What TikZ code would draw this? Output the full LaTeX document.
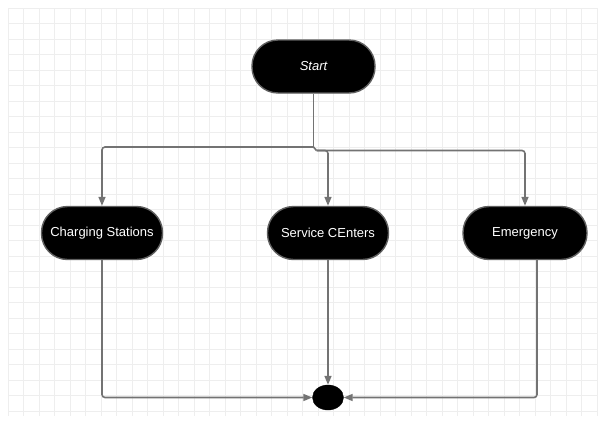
\documentclass[tikz,border=0pt]{standalone}
\usepackage{fontspec}
\setmainfont{Liberation Sans}
\usetikzlibrary{arrows.meta,shapes.geometric}
\definecolor{gridc}{RGB}{238,238,238}
\definecolor{linec}{RGB}{115,115,115}
\definecolor{edgec}{RGB}{95,95,95}
\tikzset{
  stadium/.style={draw=edgec, line width=1.4pt, fill=black, rounded corners=26pt,
    minimum height=53pt, text=white, font=\fontsize{13}{15}\selectfont, inner sep=0pt},
  conn/.style={draw=linec, line width=1.6pt, rounded corners=3pt},
  arr/.style={conn, -{Triangle[length=9pt,width=7pt]}},
}
\begin{document}
\begin{tikzpicture}[x=1pt,y=-1pt]
\useasboundingbox (0,0) rectangle (606,421);
\fill[white] (0,0) rectangle (606,421);
% grid
\foreach \i in {0,...,38} {
  \draw[gridc, line width=0.7pt] ({8+15.5*\i},8) -- ({8+15.5*\i},416);
}
\foreach \j in {0,...,26} {
  \draw[gridc, line width=0.7pt] (8,{8+15.5*\j}) -- (598,{8+15.5*\j});
}
% nodes
\node[stadium, minimum width=123pt, font=\fontsize{13}{15}\selectfont\itshape] (start) at (313.5,66.5) {Start};
\node[stadium, minimum width=121pt] (cs) at (102,233) {Charging Stations};
\node[stadium, minimum width=121pt] (sc) at (328,233) {Service CEnters};
\node[stadium, minimum width=124pt] (em) at (525,233) {Emergency};
\node[ellipse, fill=black, draw=black, minimum width=31pt, minimum height=25pt, inner sep=0pt] (end) at (328,397.5) {};
% junction coordinates
\coordinate (jl) at (313.5,147);
\coordinate (jr) at (316.5,150.5);
\coordinate (emout) at (537,259.5);
% connectors
\draw[conn] (start.south) -- (jl);
\draw[arr] (jl) -| (cs.north);
\draw[conn] (jl) -- (jr);
\draw[arr] (jr) -| (sc.north);
\draw[arr] (jr) -| (em.north);
\draw[arr] (cs.south) |- (end.west);
\draw[arr] (sc.south) -- (end.north);
\draw[arr] (emout) |- (end.east);
\end{tikzpicture}
\end{document}
